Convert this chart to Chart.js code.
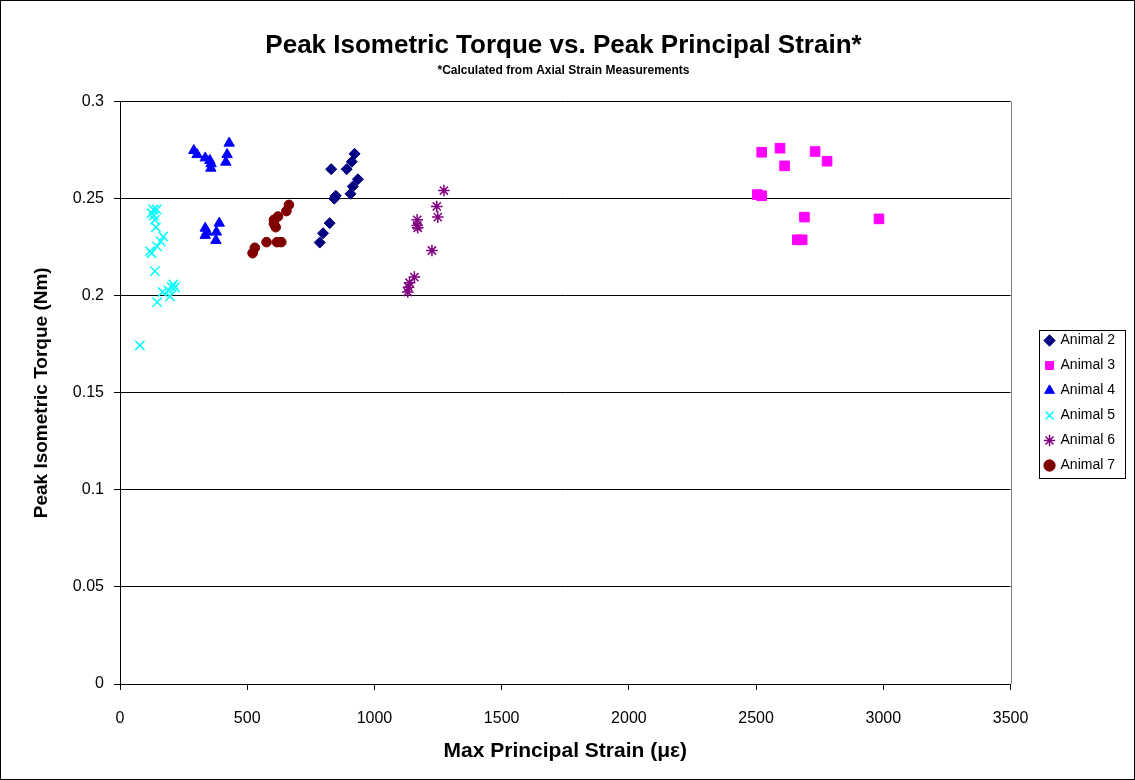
<!DOCTYPE html>
<html lang="en">

<head>
    <meta charset="UTF-8">
    <title>Peak Isometric Torque vs. Peak Principal Strain</title>
    <script src="https://cdn.jsdelivr.net/npm/chart.js"></script>
    <style>
        html, body { margin: 0; padding: 0; background: #fff; }
        #wrap { width: 1135px; height: 780px; }
    </style>
</head>

<body>
    <div id="wrap"><canvas id="torqueChart"></canvas></div>

    <script>
        // values (strain in microstrain, torque in Nm)
        const animal2X = [922, 911, 830, 891, 935, 915, 906, 842, 848, 824, 798, 785];
        const animal2Y = [0.2731, 0.2690, 0.2652, 0.2652, 0.2600, 0.2563, 0.2525, 0.2500, 0.2515, 0.2374, 0.2322, 0.2274];

        const animal3X = [2522, 2594, 2612, 2732, 2779, 2505, 2522, 2690, 2983, 2662, 2681];
        const animal3Y = [0.2739, 0.2760, 0.2669, 0.2743, 0.2693, 0.2521, 0.2515, 0.2405, 0.2396, 0.2288, 0.2288];

        const animal4X = [290, 303, 335, 353, 357, 358, 429, 421, 416, 335, 335, 342, 390, 379, 377];
        const animal4Y = [0.2748, 0.2727, 0.2710, 0.2697, 0.2657, 0.2680, 0.2786, 0.2727, 0.2688, 0.2348, 0.2311, 0.2328, 0.2374, 0.2328, 0.2285];

        const animal5X = [131, 144, 124, 133, 137, 141, 170, 160, 146, 118, 124, 137, 209, 203, 167, 190, 216, 196, 146, 78];
        const animal5Y = [0.2444, 0.2444, 0.2425, 0.2413, 0.2391, 0.2353, 0.2305, 0.2280, 0.2254, 0.2230, 0.2219, 0.2127, 0.2058, 0.2044, 0.2019, 0.2027, 0.2044, 0.1997, 0.1967, 0.1744];

        const animal6X = [1273, 1245, 1249, 1168, 1168, 1170, 1226, 1157, 1138, 1134, 1131];
        const animal6Y = [0.2542, 0.2460, 0.2405, 0.2391, 0.2362, 0.2350, 0.2233, 0.2096, 0.2067, 0.2044, 0.2019];

        const animal7X = [664, 654, 621, 605, 612, 605, 576, 617, 634, 530, 521];
        const animal7Y = [0.2468, 0.2436, 0.2408, 0.2391, 0.2353, 0.2371, 0.2276, 0.2276, 0.2276, 0.2247, 0.2219];

        const xTicks = [0, 500, 1000, 1500, 2000, 2500, 3000, 3500];
        const yTicks = [0, 0.05, 0.1, 0.15, 0.2, 0.25, 0.3];

        const FONT = 'Arial, "Liberation Sans", sans-serif';

        function pts(xs, ys) {
            return xs.map((x, i) => ({ x: x, y: ys[i] }));
        }

        function series(label, xs, ys, color, style, radius, bw) {
            return {
                label: label,
                data: pts(xs, ys),
                pointStyle: style,
                pointRadius: radius,
                pointHoverRadius: radius,
                backgroundColor: color,
                borderColor: color,
                pointBorderWidth: bw,
                showLine: false
            };
        }

        // white page, black outer frame, grey right edge of the plot area, boxed legend
        const frame = {
            id: 'frame',
            beforeDraw(chart) {
                const c = chart.ctx;
                c.save();
                c.fillStyle = '#fff';
                c.fillRect(0, 0, chart.width, chart.height);
                c.restore();
            },
            afterLayout(chart) {
                // push the legend a little right and down, like the Excel one
                const lg = chart.legend;
                const dx = chart.chartArea.right + 24 - lg.left;
                lg.left += dx;
                lg.right += dx;
                lg.top += 4;
                lg.bottom += 4;
            },
            beforeDatasetsDraw(chart) {
                const a = chart.chartArea;
                const c = chart.ctx;
                c.save();
                c.strokeStyle = '#808080';
                c.lineWidth = 1;
                c.beginPath();
                c.moveTo(Math.round(a.right) + 0.5, a.top);
                c.lineTo(Math.round(a.right) + 0.5, a.bottom);
                c.stroke();
                c.restore();
            },
            afterDraw(chart) {
                const c = chart.ctx;
                const boxes = chart.legend.legendHitBoxes || [];
                c.save();
                c.strokeStyle = '#000';
                c.lineWidth = 1;
                c.strokeRect(0.5, 0.5, chart.width - 1, chart.height - 1);
                if (boxes.length) {
                    const first = boxes[0], last = boxes[boxes.length - 1];
                    const top = first.top + first.height / 2 - 11;
                    const bottom = last.top + last.height / 2 + 12;
                    const left = chart.chartArea.right + 28;
                    const right = chart.width - 10;
                    c.strokeRect(Math.round(left) + 0.5, Math.round(top) + 0.5, Math.round(right - left), Math.round(bottom - top));
                }
                c.restore();
            }
        };

        const ctx = document.getElementById('torqueChart').getContext('2d');

        new Chart(ctx, {
            type: 'scatter',
            data: {
                datasets: [
                    series('Animal 2', animal2X, animal2Y, '#000080', 'rectRot', 5.5, 1),
                    series('Animal 3', animal3X, animal3Y, '#FF00FF', 'rect', 6.8, 1),
                    series('Animal 4', animal4X, animal4Y, '#0000FF', 'triangle', 6, 1),
                    series('Animal 5', animal5X, animal5Y, '#00FFFF', 'crossRot', 6.6, 1.5),
                    series('Animal 6', animal6X, animal6Y, '#800080', 'star', 5.8, 1.5),
                    series('Animal 7', animal7X, animal7Y, '#800000', 'circle', 4.8, 1)
                ]
            },
            options: {
                responsive: true,
                maintainAspectRatio: false,
                animation: false,
                layout: {
                    padding: { top: 30, left: 26, right: 34, bottom: 12 }
                },
                scales: {
                    x: {
                        type: 'linear',
                        min: 0,
                        max: 3500,
                        afterBuildTicks: axis => { axis.ticks = xTicks.map(v => ({ value: v })); },
                        afterFit: axis => { axis.height = 84; },
                        grid: { drawOnChartArea: false, drawTicks: true, tickLength: 6, color: '#000' },
                        border: { color: '#000', width: 1 },
                        ticks: {
                            color: '#000',
                            padding: 19,
                            font: { family: FONT, size: 16 },
                            callback: v => String(v)
                        },
                        title: {
                            display: true,
                            text: 'Max Principal Strain (\u03bc\u03b5)',
                            color: '#000',
                            font: { family: FONT, size: 21, weight: 'bold' },
                            padding: { top: 4, bottom: 4 }
                        }
                    },
                    y: {
                        min: 0,
                        max: 0.3,
                        afterBuildTicks: axis => { axis.ticks = yTicks.map(v => ({ value: v })); },
                        afterFit: axis => { axis.width = 94; },
                        grid: { color: '#000', tickLength: 6 },
                        border: { color: '#000', width: 1 },
                        ticks: {
                            color: '#000',
                            padding: 10,
                            font: { family: FONT, size: 16 },
                            callback: v => String(v)
                        },
                        title: {
                            display: true,
                            text: 'Peak Isometric Torque (Nm)',
                            color: '#000',
                            font: { family: FONT, size: 19, weight: 'bold' },
                            padding: { top: 4, bottom: 4 }
                        }
                    }
                },
                plugins: {
                    title: {
                        display: true,
                        text: 'Peak Isometric Torque vs. Peak Principal Strain*',
                        color: '#000',
                        font: { family: FONT, size: 26, weight: 'bold' },
                        padding: { top: 0, bottom: 2 }
                    },
                    subtitle: {
                        display: true,
                        text: '*Calculated from Axial Strain Measurements',
                        color: '#000',
                        font: { family: FONT, size: 12, weight: 'bold' },
                        padding: { top: 0, bottom: 24 }
                    },
                    legend: {
                        position: 'right',
                        labels: {
                            color: '#000',
                            font: { family: FONT, size: 14 },
                            usePointStyle: true,
                            boxWidth: 8,
                            boxHeight: 8,
                            padding: 11
                        }
                    },
                    tooltip: { enabled: false }
                }
            },
            plugins: [frame]
        });
    </script>
</body>

</html>
